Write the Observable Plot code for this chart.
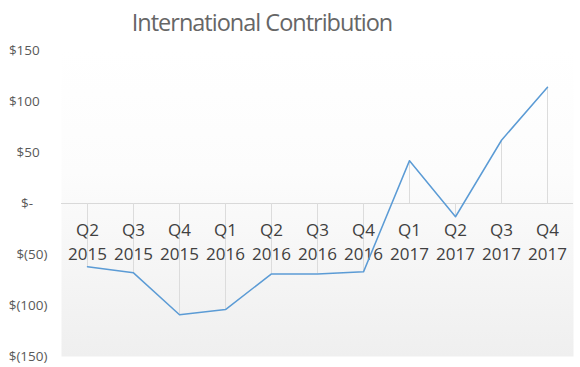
<!DOCTYPE html>
<html>
<head>
<meta charset="utf-8">
<script src="https://cdn.jsdelivr.net/npm/d3@7"></script>
<script src="https://cdn.jsdelivr.net/npm/@observablehq/plot@0.6"></script>
<style>
  body { margin: 0; background: #fff; width: 580px; height: 367px; overflow: hidden; }
  #title { height: 40px; line-height: 44px; width: 524px; text-align: center; font-family: "Open Sans", sans-serif; font-size: 23.5px; letter-spacing: -1px; color: #666666; }
</style>
</head>
<body>
<div id="title">International Contribution</div>
<div id="chart"></div>
<script>
const quarters = ["Q2", "Q3", "Q4", "Q1", "Q2", "Q3", "Q4", "Q1", "Q2", "Q3", "Q4"];
const years = ["2015", "2015", "2015", "2016", "2016", "2016", "2016", "2017", "2017", "2017", "2017"];
const values = [-62, -68, -109, -104, -69, -69, -67, 42, -13, 62, 114];
const yTicks = [-150, -100, -50, 0, 50, 100, 150];

const labels = quarters.map((q, i) => q + "\n" + years[i]);
const data = labels.map((l, i) => ({label: l, value: values[i]}));

const fmt = v => {
  if (v === 0) return "$-\u2007\u2002";
  if (v < 0) return "$(" + Math.abs(v) + ")";
  return "$" + v + "\u2007";
};

const defs = () => {
  const ns = "http://www.w3.org/2000/svg";
  const d = document.createElementNS(ns, "defs");
  d.innerHTML = `<linearGradient id="bg" x1="0" y1="0" x2="0" y2="1">
    <stop offset="0" stop-color="#ffffff"/>
    <stop offset="0.4" stop-color="#fcfcfc"/>
    <stop offset="1" stop-color="#efefef"/>
  </linearGradient>`;
  return d;
};

const chart = Plot.plot({
  width: 580,
  height: 327,
  marginLeft: 61,
  marginRight: 7,
  marginTop: 10,
  marginBottom: 11,
  style: {fontFamily: "'Open Sans', sans-serif", background: "transparent"},
  x: {type: "point", domain: labels, padding: 0.5, axis: null},
  y: {domain: [-150, 150], axis: null},
  marks: [
    defs,
    Plot.frame({fill: "url(#bg)", stroke: "none"}),
    Plot.ruleY([0], {stroke: "#d9d9d9", strokeWidth: 1}),
    Plot.ruleX(data, {x: "label", y1: 0, y2: "value", stroke: "#dcdcdc", strokeWidth: 1}),
    Plot.axisY(yTicks, {tickSize: 0, tickPadding: 14, tickFormat: fmt, fontSize: 13.5, fill: "#595959", label: null}),
    Plot.text(data, {x: "label", y: 0, text: "label", dy: 37, lineAnchor: "middle", lineHeight: 1.41, fontSize: 17, fill: "#404040"}),
    Plot.line(data, {x: "label", y: "value", stroke: "#5b9bd5", strokeWidth: 1.5})
  ]
});
document.getElementById("chart").appendChild(chart);
</script>
</body>
</html>
